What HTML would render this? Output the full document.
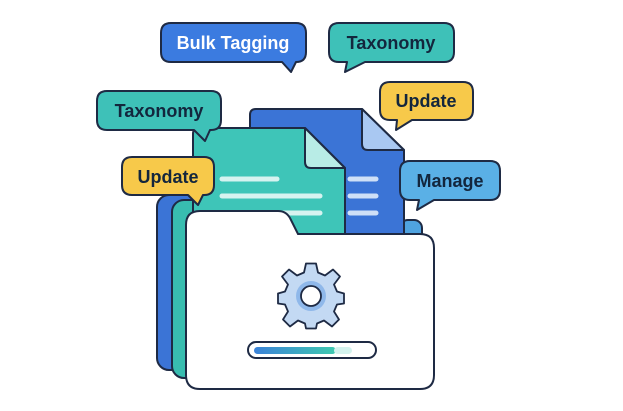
<!DOCTYPE html>
<html><head><style>
body{margin:0;background:#fff;width:623px;height:406px;overflow:hidden}
text{font-family:"Liberation Sans",sans-serif;font-weight:bold}
</style></head><body>
<svg width="623" height="406" viewBox="0 0 623 406">
<defs>
<linearGradient id="pg" x1="0" x2="1"><stop offset="0" stop-color="#3b82d9"/><stop offset="1" stop-color="#3ec9b0"/></linearGradient>
</defs>
<g stroke="#1e2a44" stroke-width="2" stroke-linejoin="round">
<!-- back folders -->
<rect x="157" y="195" width="60" height="175" rx="12" fill="#3b74d6"/>
<rect x="172" y="200" width="60" height="178" rx="12" fill="#38bdb0"/>
<rect x="400" y="220" width="22" height="40" rx="8" fill="#4fa3e0"/>
<!-- blue doc -->
<path d="M256 109 H362 L404 150 V240 H250 V115 Q250 109 256 109Z" fill="#3b74d6"/>
<path d="M362 109 V144 Q362 150 368 150 H404Z" fill="#a9c8f2"/>
<!-- teal doc -->
<path d="M199 128 H305 L345 168 V250 H193 V134 Q193 128 199 128Z" fill="#3ec5b8"/>
<path d="M305 128 V162 Q305 168 311 168 H345Z" fill="#b8ece6"/>
</g>
<g stroke="#d6f3f0" stroke-width="5" stroke-linecap="round">
<line x1="222" y1="179" x2="277" y2="179"/><line x1="222" y1="196" x2="320" y2="196"/><line x1="222" y1="213" x2="320" y2="213"/>
</g>
<g stroke="#cfe0f7" stroke-width="5" stroke-linecap="round">
<line x1="350" y1="179" x2="376" y2="179"/><line x1="350" y1="196" x2="376" y2="196"/><line x1="350" y1="213" x2="376" y2="213"/>
</g>
<!-- front folder -->
<path d="M200 211 H278 Q286 211 290 218 L298 234 H420 Q434 234 434 248 V375 Q434 389 420 389 H200 Q186 389 186 375 V225 Q186 211 200 211Z" fill="#fff" stroke="#1e2a44" stroke-width="2"/>
<!-- gear -->
<g transform="translate(311,296)">
<g fill="#c3d9f3" stroke="#1e2a44" stroke-width="1.8" stroke-linejoin="round">
<path d="M-5 -32 H5 L7 -23 L14 -20 L22 -26 L29 -19 L23 -11 L26 -4 L33 -2 V8 L26 9 L23 16 L28 24 L21 31 L13 25 L6 28 L5 33 H-5 L-6 28 L-13 25 L-21 31 L-28 24 L-23 16 L-26 9 L-33 8 V-2 L-26 -4 L-23 -11 L-29 -19 L-22 -26 L-14 -20 L-7 -23Z" transform="translate(0,-0.5)"/>
</g>
<circle r="15" fill="#8fb8ea"/>
<circle r="10" fill="#fff" stroke="#1e2a44" stroke-width="1.8"/>
</g>
<!-- progress -->
<rect x="248" y="342" width="128" height="16" rx="8" fill="#fff" stroke="#1e2a44" stroke-width="2"/>
<rect x="254" y="347" width="82" height="7" rx="3.5" fill="url(#pg)"/>
<rect x="334" y="347" width="18" height="7" rx="3.5" fill="#d3f2ee"/>
<!-- bubbles -->
<g stroke="#1e2a44" stroke-width="2" stroke-linejoin="round">
<path d="M171 23 H296 Q306 23 306 33 V52 Q306 62 296 62 H296 L291 72 L282 62 H171 Q161 62 161 52 V33 Q161 23 171 23Z" fill="#3b7be0"/>
<path d="M339 23 H444 Q454 23 454 33 V52 Q454 62 444 62 H365 L345 72 L347 62 H339 Q329 62 329 52 V33 Q329 23 339 23Z" fill="#3ec1b8"/>
<path d="M107 91 H211 Q221 91 221 101 V120 Q221 130 211 130 H210 L205 141 L194 130 H107 Q97 130 97 120 V101 Q97 91 107 91Z" fill="#3ec1b8"/>
<path d="M390 82 H463 Q473 82 473 92 V110 Q473 120 463 120 H412 L396 130 L397 120 H390 Q380 120 380 110 V92 Q380 82 390 82Z" fill="#f7c94a"/>
<path d="M132 157 H204 Q214 157 214 167 V185 Q214 195 204 195 H203 L198 205 L188 195 H132 Q122 195 122 185 V167 Q122 157 132 157Z" fill="#f7c94a"/>
<path d="M410 161 H490 Q500 161 500 171 V190 Q500 200 490 200 H434 L417 210 L419 200 H410 Q400 200 400 190 V171 Q400 161 410 161Z" fill="#5ab0e6"/>
</g>
<text x="233" y="49" font-size="18" fill="#fff" text-anchor="middle">Bulk Tagging</text>
<text x="391" y="49" font-size="18" fill="#13263d" text-anchor="middle">Taxonomy</text>
<text x="159" y="117" font-size="18" fill="#13263d" text-anchor="middle">Taxonomy</text>
<text x="426" y="107" font-size="18" fill="#13263d" text-anchor="middle">Update</text>
<text x="168" y="183" font-size="18" fill="#13263d" text-anchor="middle">Update</text>
<text x="450" y="187" font-size="18" fill="#13263d" text-anchor="middle">Manage</text>
</svg>
</body></html>
